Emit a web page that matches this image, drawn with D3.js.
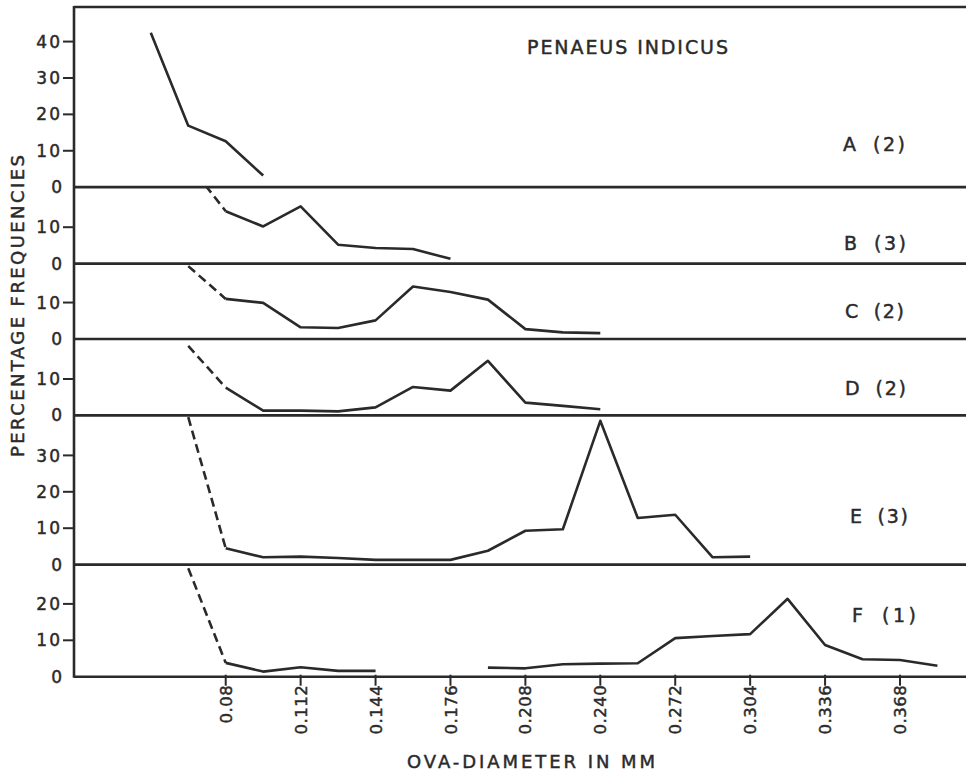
<!DOCTYPE html>
<html>
<head>
<meta charset="utf-8">
<script src="https://cdn.jsdelivr.net/npm/d3@7"></script>
<style>
  html, body { margin: 0; padding: 0; background: #ffffff; }
  svg { display: block; }
  text { font-family: "DejaVu Sans", sans-serif; fill: #2a2a2a; stroke: #2a2a2a; stroke-width: 0.45px; }
</style>
</head>
<body>
<svg id="chart" width="966" height="774"></svg>
<script>
// Ova-diameter classes (mm) and percentage frequencies for each maturity stage
const panelNames = ["A (2)", "B (3)", "C (2)", "D (2)", "E (3)", "F (1)"];
const panelMax   = [49.5, 21, 20.7, 21, 41, 30.8];
const panelTicks = [[0, 10, 20, 30, 40], [0, 10], [0, 10], [0, 10], [0, 10, 20, 30], [0, 10, 20]];

const sizesA = [0.048, 0.064, 0.080, 0.096];
const freqA  = [42.4, 16.9, 12.6, 3.2];

const sizesB = [0.080, 0.096, 0.112, 0.128, 0.144, 0.160, 0.176];
const freqB  = [14.4, 10.2, 15.7, 5.2, 4.3, 4.0, 1.3];

const sizesC = [0.080, 0.096, 0.112, 0.128, 0.144, 0.160, 0.176, 0.192, 0.208, 0.224, 0.240];
const freqC  = [11.0, 9.9, 3.2, 3.0, 5.1, 14.4, 12.9, 10.8, 2.7, 1.8, 1.6];

const sizesD = [0.080, 0.096, 0.112, 0.128, 0.144, 0.160, 0.176, 0.192, 0.208, 0.224, 0.240];
const freqD  = [7.6, 1.3, 1.3, 1.1, 2.2, 7.8, 6.8, 15.0, 3.5, 2.6, 1.7];

const sizesE = [0.080, 0.096, 0.112, 0.128, 0.144, 0.160, 0.176, 0.192, 0.208, 0.224, 0.240, 0.256, 0.272, 0.288, 0.304];
const freqE  = [4.5, 2.0, 2.2, 1.8, 1.3, 1.3, 1.3, 3.8, 9.3, 9.7, 39.5, 12.8, 13.7, 2.0, 2.2];

// F has no observations in the 0.160 and 0.176 classes (gap in the curve)
const sizesF = [0.080, 0.096, 0.112, 0.128, 0.144, 0.160, 0.176, 0.192, 0.208, 0.224, 0.240, 0.256, 0.272, 0.288, 0.304, 0.320, 0.336, 0.352, 0.368, 0.384];
const freqF  = [3.8, 1.4, 2.6, 1.6, 1.6, null, null, 2.5, 2.3, 3.4, 3.6, 3.7, 10.6, 11.2, 11.7, 21.4, 8.7, 4.8, 4.6, 3.0];

// Dashed extrapolation from the 0.064 class into the first measured class
const leadFreq = [null, 27.5, 20.0, 19.1, 40.5, 29.8];

const xTickValues = [0.08, 0.112, 0.144, 0.176, 0.208, 0.240, 0.272, 0.304, 0.336, 0.368];
const xTickLabels = ["0.08", "0.112", "0.144", "0.176", "0.208", "0.240", "0.272", "0.304", "0.336", "0.368"];

const panelSizes = [sizesA, sizesB, sizesC, sizesD, sizesE, sizesF];
const panelFreqs = [freqA, freqB, freqC, freqD, freqE, freqF];

// ---- layout ----
const svg = d3.select("#chart");
const plotLeft = 74, plotRight = 966, plotTop = 7, plotBottom = 676.7;
const ink = "#2a2a2a";

const x = d3.scaleLinear().domain([0.0152, 0.3962]).range([plotLeft, plotRight]);

const totalUnits = d3.sum(panelMax);
const unit = (plotBottom - plotTop) / totalUnits;
let cursor = plotTop;
const panels = panelMax.map((m, i) => {
  const t = cursor;
  const b = t + m * unit;
  cursor = b;
  return { i, top: t, zero: b, y: d3.scaleLinear().domain([0, m]).range([b, t]) };
});

// panel label heights (in each panel's own units), left offsets and lettered widths
const labelLevel = [11.7, 5.7, 7.6, 7.6, 13.2, 17.0];
const labelX = [843, 844, 845, 845, 850, 852];
const labelW = [62, 62, 59, 61, 58, 64];

const defs = svg.append("defs");
panels.forEach(p => {
  defs.append("clipPath").attr("id", "clip" + p.i)
    .append("rect").attr("x", plotLeft).attr("y", p.top)
    .attr("width", plotRight - plotLeft).attr("height", p.zero - p.top);
});

// frame: top rule and left axis line
svg.append("line").attr("x1", plotLeft).attr("x2", plotRight).attr("y1", plotTop).attr("y2", plotTop)
  .attr("stroke", ink).attr("stroke-width", 2.6);
svg.append("line").attr("x1", plotLeft).attr("x2", plotLeft).attr("y1", plotTop - 1).attr("y2", plotBottom + 1)
  .attr("stroke", ink).attr("stroke-width", 2.6);

panels.forEach(p => {
  const g = svg.append("g");
  // baseline of each panel
  g.append("line").attr("x1", plotLeft).attr("x2", plotRight).attr("y1", p.zero).attr("y2", p.zero)
    .attr("stroke", ink).attr("stroke-width", 2.6);

  // y axis ticks and labels
  const ticks = panelTicks[p.i];
  g.selectAll("line.tick").data(ticks.filter(v => v > 0)).join("line")
    .attr("class", "tick")
    .attr("x1", plotLeft - 11).attr("x2", plotLeft)
    .attr("y1", d => p.y(d)).attr("y2", d => p.y(d))
    .attr("stroke", ink).attr("stroke-width", 2);
  g.selectAll("text.ytick").data(ticks).join("text")
    .attr("class", "ytick")
    .attr("x", d => d === 0 ? 64 : 62)
    .attr("y", d => p.y(d))
    .attr("dy", "0.36em")
    .attr("text-anchor", "end")
    .attr("font-size", 17)
    .attr("letter-spacing", 2)
    .text(d => d);

  const sizes = panelSizes[p.i];
  const freqs = panelFreqs[p.i];
  const pts = sizes.map((s, k) => ({ s, f: freqs[k] }));
  const line = d3.line()
    .defined(d => d.f !== null)
    .x(d => x(d.s)).y(d => p.y(d.f));

  const gc = g.append("g").attr("clip-path", `url(#clip${p.i})`);
  gc.append("path").datum(pts)
    .attr("d", line)
    .attr("fill", "none").attr("stroke", ink).attr("stroke-width", 2.6)
    .attr("stroke-linejoin", "round").attr("stroke-linecap", "butt");

  if (leadFreq[p.i] !== null) {
    const lead = [{ s: 0.064, f: leadFreq[p.i] }, pts[0]];
    gc.append("path").datum(lead)
      .attr("d", line)
      .attr("fill", "none").attr("stroke", ink).attr("stroke-width", 2.6)
      .attr("stroke-dasharray", "9,5");
  }

  // panel label
  g.append("text")
    .attr("x", labelX[p.i])
    .attr("y", p.y(labelLevel[p.i]))
    .attr("dy", "0.36em")
    .attr("font-size", 19)
    .attr("word-spacing", 6)
    .attr("textLength", labelW[p.i]).attr("lengthAdjust", "spacing")
    .text(panelNames[p.i]);
});

// x axis ticks and rotated labels
const xg = svg.append("g");
xg.selectAll("line").data(xTickValues).join("line")
  .attr("x1", d => x(d)).attr("x2", d => x(d))
  .attr("y1", plotBottom - 2).attr("y2", plotBottom + 9)
  .attr("stroke", ink).attr("stroke-width", 2);
xg.selectAll("text").data(xTickValues).join("text")
  .attr("transform", d => `translate(${x(d)},${plotBottom + 8}) rotate(-90)`)
  .attr("text-anchor", "end")
  .attr("dy", "0.37em")
  .attr("font-size", 16.5)
  .attr("letter-spacing", 0.5)
  .text((d, i) => xTickLabels[i]);

// titles
svg.append("text")
  .attr("x", 627.5).attr("y", 47).attr("dy", "0.36em")
  .attr("text-anchor", "middle")
  .attr("font-size", 19)
  .attr("textLength", 201).attr("lengthAdjust", "spacing")
  .text("PENAEUS INDICUS");

svg.append("text")
  .attr("x", 531).attr("y", 768)
  .attr("text-anchor", "middle")
  .attr("font-size", 18)
  .attr("textLength", 248).attr("lengthAdjust", "spacing")
  .text("OVA-DIAMETER IN MM");

svg.append("text")
  .attr("transform", "translate(18,306) rotate(-90)")
  .attr("text-anchor", "middle")
  .attr("dy", "0.36em")
  .attr("font-size", 18)
  .attr("textLength", 302).attr("lengthAdjust", "spacing")
  .text("PERCENTAGE FREQUENCIES");
</script>
</body>
</html>
